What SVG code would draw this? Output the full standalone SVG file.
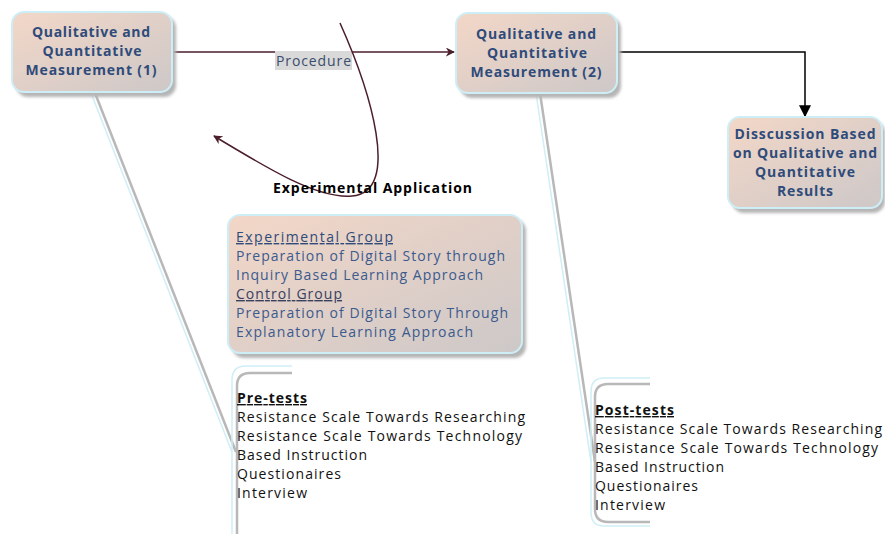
<svg xmlns="http://www.w3.org/2000/svg" width="885" height="534" viewBox="0 0 885 534">
<defs>
<linearGradient id="g" x1="0" y1="0" x2="1" y2="1">
<stop offset="0" stop-color="#f3d7c7"/>
<stop offset="1" stop-color="#cdc8c8"/>
</linearGradient>
<filter id="sh" x="-10%" y="-10%" width="130%" height="140%">
<feGaussianBlur stdDeviation="1.5"/>
</filter>
<marker id="am" viewBox="0 0 10 10" refX="9" refY="5" markerWidth="9" markerHeight="9" markerUnits="userSpaceOnUse" orient="auto">
<path d="M0,0 L10,5 L0,10 L3,5 Z" fill="#4a1e2a"/>
</marker>
<marker id="ab" viewBox="0 0 10 10" refX="9" refY="5" markerWidth="12" markerHeight="12" markerUnits="userSpaceOnUse" orient="auto">
<path d="M0,0 L10,5 L0,10 Z" fill="#000"/>
</marker>
</defs>
<style>
.shadow{fill:#b5b5b5;filter:url(#sh)}
.box{fill:url(#g);stroke:#cdeef6;stroke-width:2}
.nt{font-family:"Open Sans","Liberation Sans",sans-serif;font-weight:bold;font-size:14px;fill:#2f4b7a;text-anchor:middle}
.bt{font-family:"Open Sans","Liberation Sans",sans-serif;font-size:14px;fill:#3b5a8e}
.kt{font-family:"Open Sans","Liberation Sans",sans-serif;font-size:14px;fill:#111}
.ul{text-decoration:underline}
.gl{fill:none;stroke:#b8b8b8;stroke-width:2.5}
.cl{fill:none;stroke:#cfeef6;stroke-width:1.5}
</style>

<g id="connectors">
<line class="gl" x1="95" y1="93" x2="236" y2="452"/>
<line class="cl" x1="91" y1="93" x2="232" y2="452"/>
<line class="gl" x1="540" y1="93" x2="595" y2="462"/>
<line class="cl" x1="536" y1="93" x2="591" y2="462"/>
<path class="gl" d="M292,373 L250,373 Q237,373 237,386 L237,534"/>
<path class="cl" d="M292,366 L246,366 Q232,366 232,380 L232,534"/>
<path class="gl" d="M650,384 L608,384 Q595,384 595,397 L595,509 Q595,522 608,522 L650,522"/>
<path class="cl" d="M650,378 L604,378 Q591,378 591,392 L591,512 Q591,526 604,526 L650,526"/>
<line x1="172" y1="52" x2="454" y2="52" stroke="#4a1e2a" stroke-width="1.5" marker-end="url(#am)"/>
<rect x="275" y="51" width="77" height="19" fill="#d9d9d9"/>
<text class="bt" x="276" y="66" textLength="75" style="fill:#3a4d6e">Procedure</text>
<path d="M340,23 C370,90 402,192 352,196 C318,199 270,170 214,136" fill="none" stroke="#4a1e2a" stroke-width="1.5" marker-end="url(#am)"/>
<text x="273" y="193" textLength="199" style="font-family:'Open Sans','Liberation Sans',sans-serif;font-weight:bold;font-size:14px;fill:#000">Experimental Application</text>
<path d="M617,52 L805,52 L805,116" fill="none" stroke="#000" stroke-width="1.5" marker-end="url(#ab)"/>
</g>

<g id="node1">
<rect class="shadow" x="16" y="16" width="160" height="81" rx="12"/>
<rect class="box" x="12" y="12" width="160" height="80" rx="12"/>
<text class="nt" x="91" y="37" textLength="118">Qualitative and</text>
<text class="nt" x="92" y="56" textLength="99">Quantitative</text>
<text class="nt" x="91" y="75" textLength="131">Measurement (1)</text>
</g>

<g id="node2">
<rect class="shadow" x="460" y="17" width="161" height="81" rx="12"/>
<rect class="box" x="456" y="13" width="161" height="80" rx="12"/>
<text class="nt" x="536" y="39" textLength="120">Qualitative and</text>
<text class="nt" x="537" y="58" textLength="100">Quantitative</text>
<text class="nt" x="536" y="77" textLength="131">Measurement (2)</text>
</g>

<g id="node3">
<rect class="shadow" x="732" y="121" width="153" height="92" rx="12"/>
<rect class="box" x="728" y="117" width="154" height="91" rx="12"/>
<text class="nt" x="805" y="139" textLength="141">Disscussion Based</text>
<text class="nt" x="805" y="158" textLength="144">on Qualitative and</text>
<text class="nt" x="805" y="177" textLength="100">Quantitative</text>
<text class="nt" x="805" y="196" textLength="56">Results</text>
</g>

<g id="node4">
<rect class="shadow" x="232" y="219" width="294" height="139" rx="12"/>
<rect class="box" x="228" y="215" width="294" height="138" rx="12"/>
<text class="bt ul" x="236" y="242" textLength="157" style="fill:#2f4b7a">Experimental Group</text>
<text class="bt" x="236" y="261" textLength="269">Preparation of Digital Story through</text>
<text class="bt" x="236" y="280" textLength="247">Inquiry Based Learning Approach</text>
<text class="bt ul" x="236" y="299" textLength="106" style="fill:#37405e">Control Group</text>
<text class="bt" x="236" y="318" textLength="272">Preparation of Digital Story Through</text>
<text class="bt" x="236" y="337" textLength="237">Explanatory Learning Approach</text>
</g>

<g id="node5">
<text class="kt ul" x="237" y="403" textLength="70" style="font-weight:bold">Pre-tests</text>
<text class="kt" x="237" y="422" textLength="288">Resistance Scale Towards Researching</text>
<text class="kt" x="237" y="441" textLength="285">Resistance Scale Towards Technology</text>
<text class="kt" x="237" y="460" textLength="130">Based Instruction</text>
<text class="kt" x="237" y="479" textLength="104">Questionaires</text>
<text class="kt" x="237" y="498" textLength="70">Interview</text>
</g>

<g id="node6">
<text class="kt ul" x="595" y="415" textLength="79" style="font-weight:bold">Post-tests</text>
<text class="kt" x="595" y="434" textLength="287">Resistance Scale Towards Researching</text>
<text class="kt" x="595" y="453" textLength="283">Resistance Scale Towards Technology</text>
<text class="kt" x="595" y="472" textLength="129">Based Instruction</text>
<text class="kt" x="595" y="491" textLength="103">Questionaires</text>
<text class="kt" x="595" y="510" textLength="70">Interview</text>
</g>
</svg>
